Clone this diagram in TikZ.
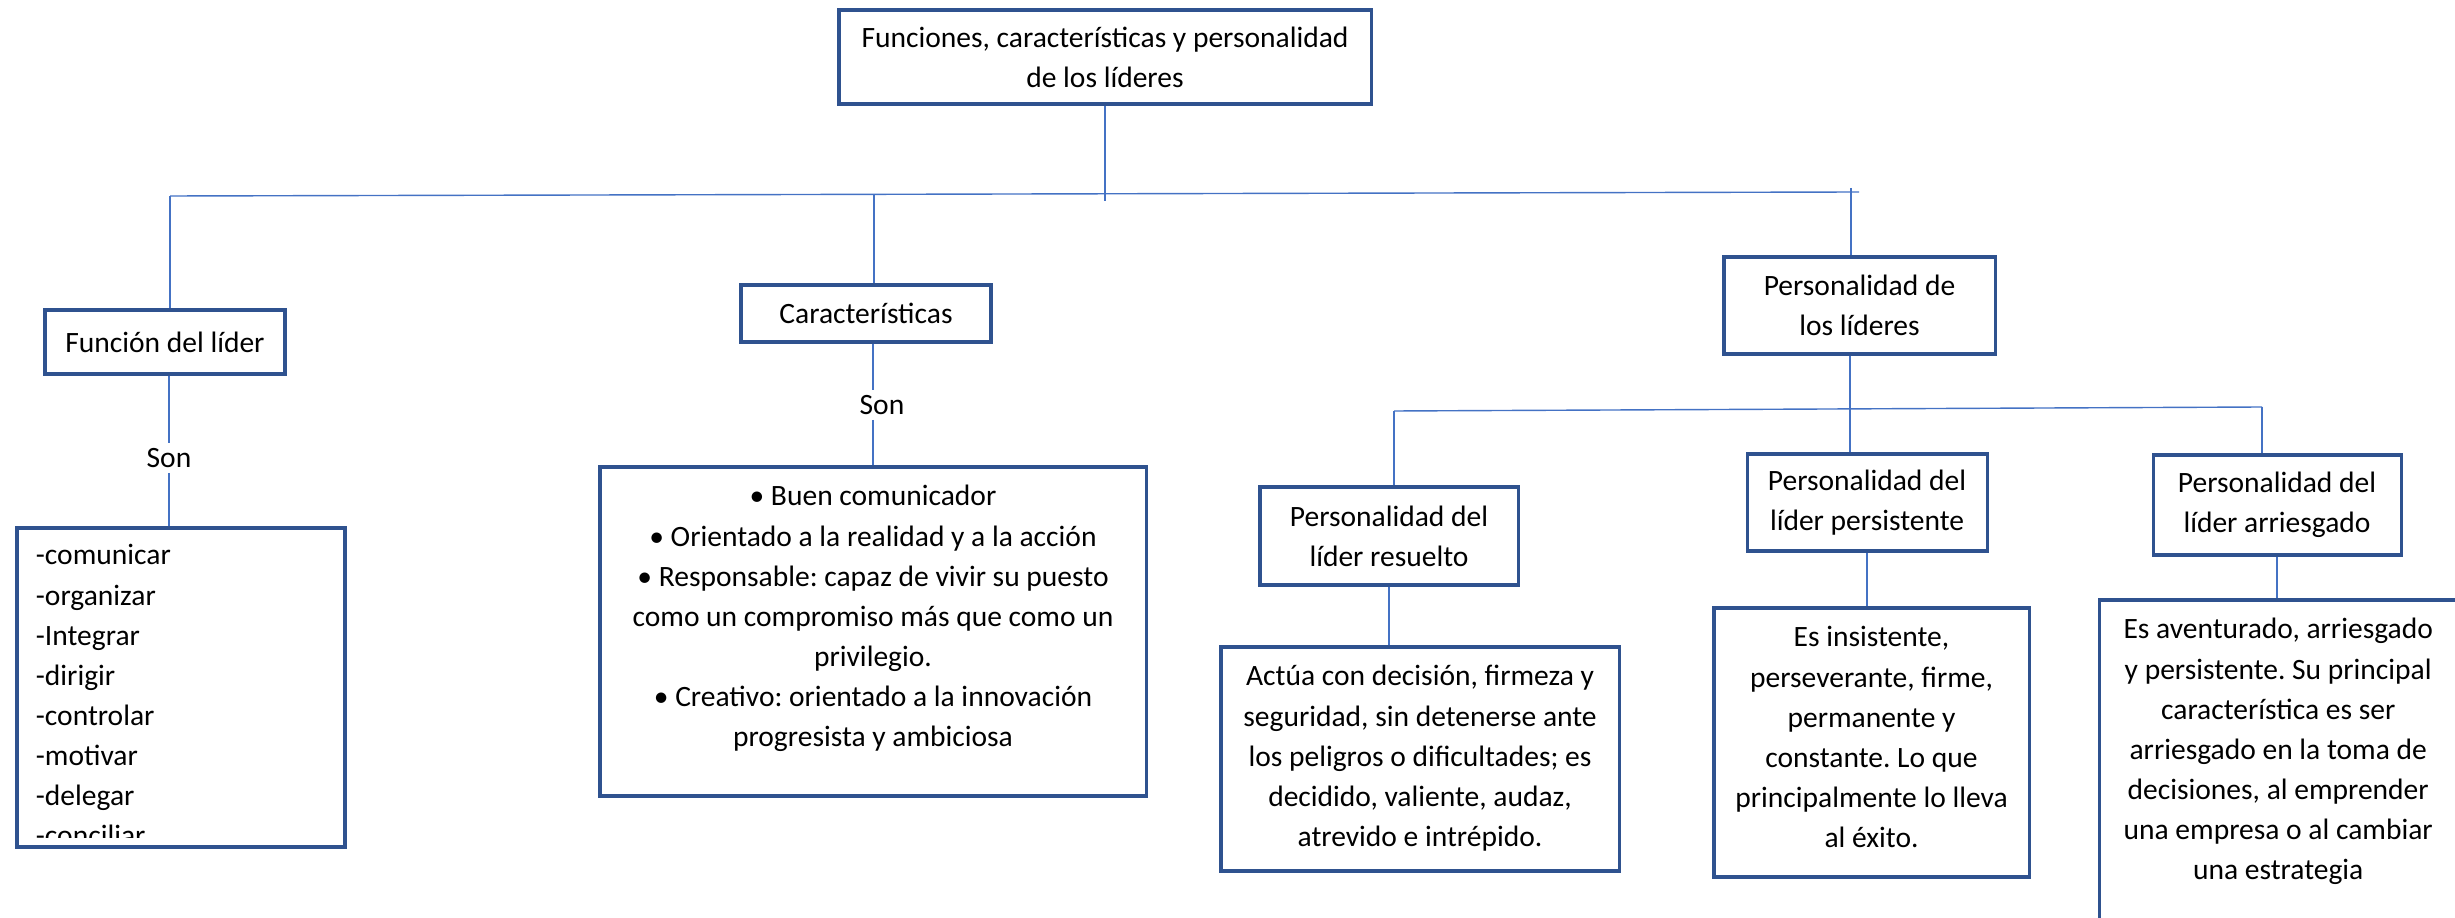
\documentclass[tikz,border=0pt]{standalone}
\usepackage{fontspec}
\setmainfont{Carlito}
\frenchspacing
\definecolor{boxblue}{HTML}{2F528F}
\definecolor{linkblue}{HTML}{4472C4}

\begin{document}
\begin{tikzpicture}[x=0.015cm,y=-0.015cm,font=\fontsize{12.6}{17.1}\selectfont,
  box/.style={draw=boxblue,line width=1.3pt,align=center,inner sep=3pt},
  link/.style={linkblue,line width=0.6pt},
  txt/.style={align=center,inner sep=0pt}]

\useasboundingbox (0,0) rectangle (2455,918);

\node[box,minimum width=7.98cm,minimum height=1.41cm] (top) at (1105,57)
  {Funciones, características y personalidad\\de los líderes};

\node[box,minimum width=3.6cm,minimum height=0.96cm] (fun) at (165,342) {Función del líder};
\node[box,minimum width=3.75cm,minimum height=0.855cm] (car) at (866,313.5) {Características};
\node[box,minimum width=4.065cm,minimum height=1.455cm] (per) at (1859.5,305.5) {Personalidad de\\los líderes};

\node[inner sep=2pt] (son1) at (169,458) {Son};
\node[inner sep=2pt] (son2) at (882,405) {Son};

\node[box,minimum width=4.92cm,minimum height=4.785cm] (fun1) at (181,687.5) {};
\node[box,minimum width=8.19cm,minimum height=4.935cm] (car1) at (873,631.5) {};

\node[box,minimum width=3.87cm,minimum height=1.47cm] (p1) at (1389,536) {Personalidad del\\líder resuelto};
\node[box,minimum width=3.6cm,minimum height=1.455cm] (p2) at (1867,502.5) {Personalidad del\\líder persistente};
\node[box,minimum width=3.72cm,minimum height=1.5cm] (p3) at (2277,505) {Personalidad del\\líder arriesgado};

\node[box,minimum width=5.97cm,minimum height=3.36cm] (d1) at (1420,759) {};
\node[box,minimum width=4.725cm,minimum height=4.035cm] (d2) at (1871.5,742.5) {};
\node[box,minimum width=5.415cm,minimum height=5.025cm] (d3) at (2279.5,767.5) {};

\begin{scope}
\clip (fun1.north west) rectangle ([yshift=0.165cm]fun1.south east);
\node[txt,align=left,anchor=north west] (fun1t) at ([xshift=0.3cm,yshift=-0.15cm]fun1.north west)
  {\strut-comunicar\\-organizar\\-Integrar\\-dirigir\\-controlar\\-motivar\\-delegar\\-conciliar};
\end{scope}

\node[txt,anchor=north] (car1t) at ([yshift=-0.18cm]car1.north)
  {\strut• Buen comunicador\\• Orientado a la realidad y a la acción\\• Responsable: capaz de vivir su puesto\\como un compromiso más que como un\\privilegio.\\• Creativo: orientado a la innovación\\progresista y ambiciosa};
\node[txt,anchor=north] (d1t) at ([yshift=-0.18cm]d1.north)
  {\strut Actúa con decisión, firmeza y\\seguridad, sin detenerse ante\\los peligros o dificultades; es\\decidido, valiente, audaz,\\atrevido e intrépido.};
\node[txt,anchor=north] (d2t) at ([yshift=-0.18cm]d2.north)
  {\strut Es insistente,\\perseverante, firme,\\permanente y\\constante. Lo que\\principalmente lo lleva\\al éxito.};
\node[txt,anchor=north] (d3t) at ([xshift=-0.02cm,yshift=-0.18cm]d3.north)
  {\strut Es aventurado, arriesgado\\y persistente. Su principal\\característica es ser\\arriesgado en la toma de\\decisiones, al emprender\\una empresa o al cambiar\\una estrategia};

\coordinate (t0) at (1105,201);
\coordinate (b1) at (170,196);
\coordinate (b2) at (1859,192);
\coordinate (b3) at (874,195);
\coordinate (b4) at (1851,188);
\coordinate (s1) at (1394,411);
\coordinate (s2) at (2262,407);
\coordinate (s3) at (1850,409);

\draw[link] (top.south) -- (t0);
\draw[link] (b1) -- (b2);
\draw[link] (b1) -- (b1 |- fun.north);
\draw[link] (b3) -- (b3 |- car.north);
\draw[link] (b4) -- (b4 |- per.north);

\draw[link] (fun.south -| son1) -- (son1.north);
\draw[link] (son1.south) -- (son1.south |- fun1.north);
\draw[link] (car1.north |- car.south) -- (car1.north |- son2.north);
\draw[link] (car1.north |- son2.south) -- (car1.north);

\draw[link] (s1) -- (s2);
\draw[link] (s3 |- per.south) -- (s3 |- p2.north);
\draw[link] (s1) -- (s1 |- p1.north);
\draw[link] (s2) -- (s2 |- p3.north);

\draw[link] (p1.south) -- (p1.south |- d1.north);
\draw[link] (p2.south) -- (p2.south |- d2.north);
\draw[link] (p3.south) -- (p3.south |- d3.north);

\end{tikzpicture}
\end{document}
